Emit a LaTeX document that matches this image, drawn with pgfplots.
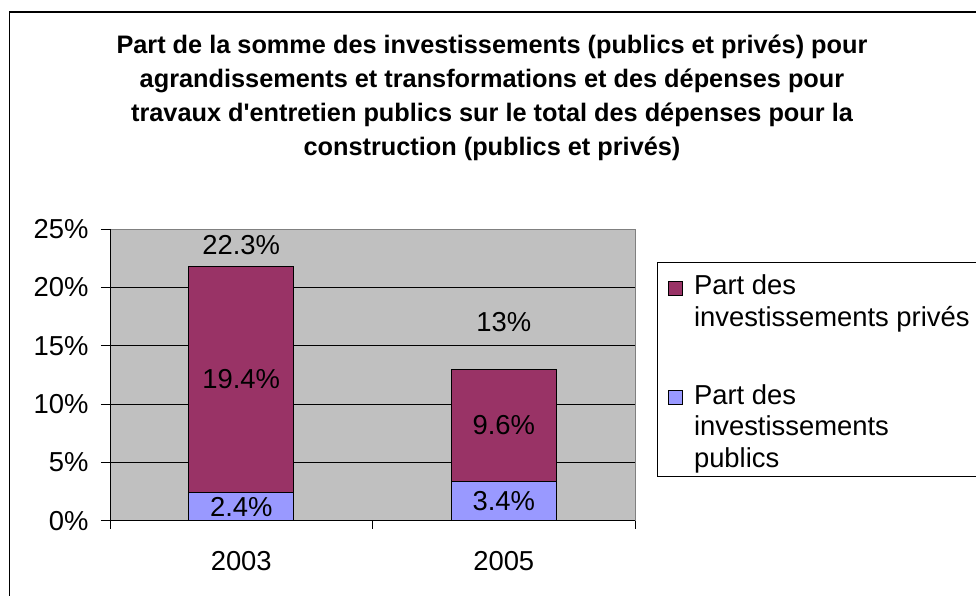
\documentclass[border=0pt]{standalone}
\usepackage{fontspec}
\setmainfont{Liberation Sans}
\usepackage{pgfplots}
\pgfplotsset{compat=1.18}
\definecolor{priv}{HTML}{993366}
\definecolor{pub}{HTML}{9999FF}
\definecolor{plotbg}{HTML}{C0C0C0}
\definecolor{bordergray}{HTML}{808080}
\begin{document}
\begin{tikzpicture}[x=1bp,y=1bp]
\useasboundingbox (0,0) rectangle (976,596);
\draw[line width=1.3bp] (9.5,-2) -- (9.5,584) -- (980,584);
\node[font=\bfseries\fontsize{25.4}{34}\selectfont, align=center, anchor=center] at (492,498)
 {Part de la somme des investissements (publics et privés) pour\\
  agrandissements et transformations et des dépenses pour\\
  travaux d\textquotesingle entretien publics sur le total des dépenses pour la\\
  construction (publics et privés)};
\draw[line width=0.8bp] (980,333.3) -- (657.3,333.3) -- (657.3,119.3) -- (980,119.3);
\begin{axis}[
  at={(110bp,75.3bp)}, anchor=south west,
  scale only axis, width=525bp, height=291.7bp,
  ybar stacked, bar width=105bp,
  xmin=-0.5, xmax=1.5, ymin=0, ymax=25,
  axis background/.style={fill=plotbg},
  axis line style={draw=none},
  /pgf/number format/assume math mode=true,
  ytick={0,5,10,15,20,25},
  yticklabel={\pgfmathprintnumber{\tick}\%},
  ymajorgrids, grid style={black, line width=0.8bp},
  tick align=outside, tick pos=left,
  major tick length=9bp,
  tick style={black, line width=0.8bp},
  xtick={0,1}, xticklabels={2003,2005},
  x tick style={draw=none},
  extra x ticks={-0.5,0.5,1.5}, extra x tick labels={},
  extra x tick style={x tick style={draw=black, line width=0.8bp}, major tick length=8bp, tick pos=left},
  ticklabel style={font=\fontsize{27.5}{33}\selectfont},
  yticklabel style={xshift=-9bp},
  xticklabel style={yshift=-18bp},
  reverse legend,
  legend style={at={(rel axis cs:1.0629,0.85)}, anchor=north west, draw=none, fill=none,
    font=\fontsize{27.5}{32}\selectfont, cells={anchor=west, align=left}, row sep=52bp, column sep=9bp, inner sep=0pt},
  after end axis/.code={
    \draw[bordergray, line width=0.8bp] (rel axis cs:0,1) -- (rel axis cs:1,1) -- (rel axis cs:1,0);
    \draw[black, line width=0.8bp] (rel axis cs:0,1) -- (rel axis cs:0,0) -- (rel axis cs:1,0);
    \node[font=\fontsize{27.5}{33}\selectfont] at (axis cs:0,1.2) {2.4\%};
    \node[font=\fontsize{27.5}{33}\selectfont] at (axis cs:0,12.1) {19.4\%};
    \node[font=\fontsize{27.5}{33}\selectfont] at (axis cs:0,23.6) {22.3\%};
    \node[font=\fontsize{27.5}{33}\selectfont] at (axis cs:1,1.7) {3.4\%};
    \node[font=\fontsize{27.5}{33}\selectfont] at (axis cs:1,8.2) {9.6\%};
    \node[font=\fontsize{27.5}{33}\selectfont] at (axis cs:1,17.0) {13\%};
  },
]
\addplot[fill=pub, draw=black, line width=0.8bp,
  legend image code/.code={\draw[fill=pub, draw=black, line width=0.8bp] (0bp,22bp) rectangle (14bp,36bp);}]
  coordinates {(0,2.4) (1,3.4)};
\addlegendentry{Part des\\investissements\\publics}
\addplot[fill=priv, draw=black, line width=0.8bp,
  legend image code/.code={\draw[fill=priv, draw=black, line width=0.8bp] (0bp,6bp) rectangle (14bp,20bp);}]
  coordinates {(0,19.4) (1,9.6)};
\addlegendentry{Part des\\investissements privés}
\end{axis}
\end{tikzpicture}
\end{document}
